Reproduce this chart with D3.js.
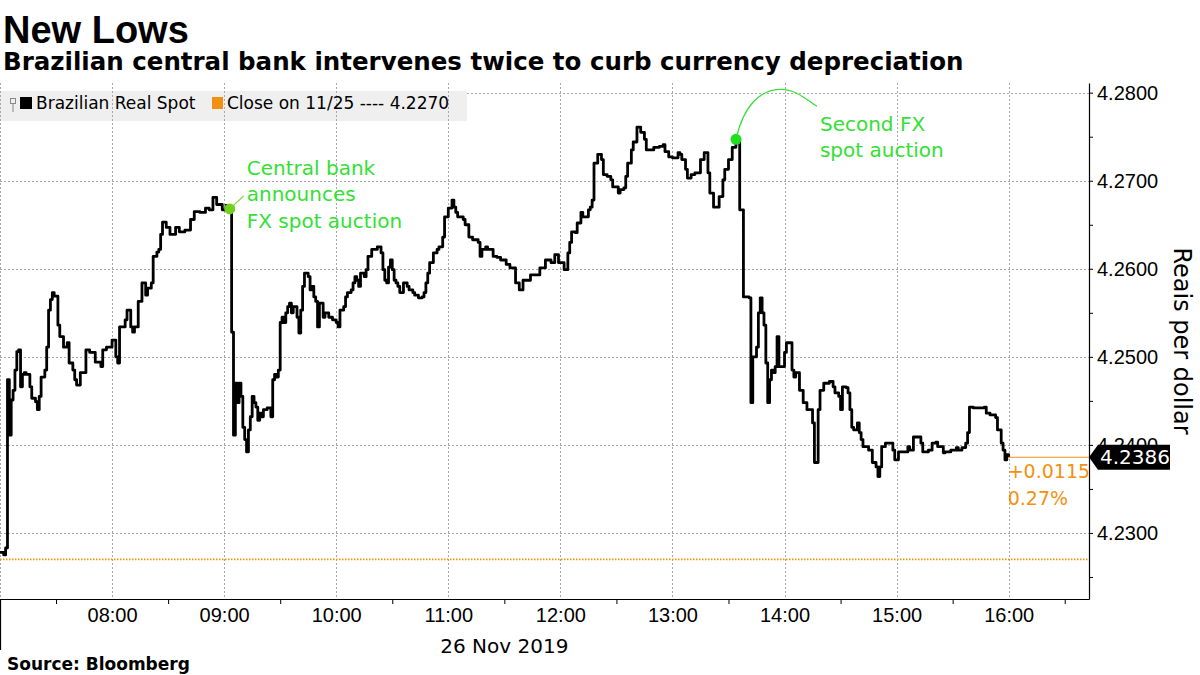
<!DOCTYPE html>
<html>
<head>
<meta charset="utf-8">
<script src="https://cdn.jsdelivr.net/npm/d3@7"></script>
<style>
  body { margin: 0; background: #fff; }
  svg { display: block; font-family: "DejaVu Sans", sans-serif; }
</style>
</head>
<body>
<svg id="chart" width="1200" height="675"></svg>
<script>
(function () {

  // minutes after 07:00 on 26 Nov 2019
  var minutes = [
    0, 2, 3, 4, 5, 6, 7, 8, 9, 10, 11, 12, 13, 14, 16, 17, 19, 20, 21, 22, 24, 25, 26, 27, 28, 29,
    31, 32, 34, 36, 37, 39, 40, 41, 43, 46, 48, 51, 54, 55, 57, 60, 62, 63, 64, 67, 68, 70, 71, 72,
    74, 76, 78, 79, 81, 82, 84, 85, 86, 87, 89, 91, 94, 96, 99, 102, 104, 107, 110, 112, 114, 116,
    119, 121, 123, 124, 125, 126, 127, 128, 129, 130, 131, 132, 133, 134, 135, 136, 137, 138, 139,
    140, 141, 143, 145, 146, 147, 148, 149, 150, 151, 152, 153, 154, 155, 156, 157, 159, 160, 161,
    162, 163, 165, 166, 167, 168, 169, 170, 171, 173, 174, 176, 178, 180, 181, 182, 184, 185, 186,
    188, 189, 190, 191, 192, 193, 195, 196, 197, 199, 202, 204, 205, 206, 207, 208, 209, 210, 211,
    212, 213, 214, 216, 218, 219, 221, 222, 224, 226, 227, 228, 229, 230, 232, 234, 235, 237, 238,
    240, 242, 243, 244, 245, 248, 249, 251, 253, 256, 257, 258, 260, 261, 264, 266, 268, 271, 273,
    276, 278, 280, 284, 289, 292, 295, 297, 299, 302, 304, 305, 306, 308, 309, 311, 312, 315, 316,
    317, 318, 320, 321, 322, 323, 325, 327, 328, 331, 332, 334, 335, 336, 338, 339, 341, 342, 343,
    345, 346, 347, 350, 353, 355, 356, 358, 360, 363, 364, 365, 367, 368, 370, 372, 375, 377, 379,
    380, 382, 385, 387, 388, 390, 392, 394, 396, 398, 401, 402, 403, 405, 406, 407, 408, 409, 410,
    411, 412, 413, 414, 415, 416, 417, 419, 420, 421, 422, 424, 425, 426, 428, 430, 431, 432, 435,
    436, 437, 438, 439, 441, 444, 446, 447, 449, 450, 451, 453, 454, 455, 456, 457, 459, 460, 461,
    462, 465, 467, 469, 470, 471, 472, 474, 476, 478, 479, 481, 484, 486, 487, 489, 491, 493, 494,
    497, 499, 501, 502, 505, 506, 509, 512, 513, 515, 517, 518, 519, 521, 524, 527, 528, 530, 533,
    534, 536, 537, 538, 539, 540
  ];

  // BRL per USD spot
  var spot = [
    4.2278, 4.2275, 4.2283, 4.2474, 4.2411, 4.2451, 4.2462, 4.2485, 4.2506, 4.2508, 4.2466, 4.2480,
    4.2482, 4.2480, 4.2466, 4.2453, 4.2449, 4.2440, 4.2455, 4.2477, 4.2485, 4.2511, 4.2553, 4.2565,
    4.2573, 4.2569, 4.2536, 4.2523, 4.2511, 4.2516, 4.2493, 4.2485, 4.2474, 4.2468, 4.2482, 4.2508,
    4.2505, 4.2494, 4.2489, 4.2508, 4.2511, 4.2519, 4.2500, 4.2493, 4.2534, 4.2542, 4.2553, 4.2534,
    4.2528, 4.2534, 4.2563, 4.2584, 4.2570, 4.2578, 4.2584, 4.2614, 4.2619, 4.2622, 4.2639, 4.2653,
    4.2647, 4.2639, 4.2647, 4.2642, 4.2644, 4.2656, 4.2665, 4.2664, 4.2669, 4.2667, 4.2681, 4.2673,
    4.2667, 4.2672, 4.2668, 4.2528, 4.2411, 4.2470, 4.2448, 4.2470, 4.2455, 4.2420, 4.2406, 4.2392,
    4.2417, 4.2432, 4.2455, 4.2448, 4.2443, 4.2428, 4.2436, 4.2432, 4.2440, 4.2442, 4.2432, 4.2474,
    4.2480, 4.2477, 4.2485, 4.2539, 4.2545, 4.2539, 4.2550, 4.2557, 4.2561, 4.2550, 4.2557, 4.2545,
    4.2527, 4.2553, 4.2580, 4.2595, 4.2591, 4.2576, 4.2580, 4.2568, 4.2563, 4.2534, 4.2561, 4.2545,
    4.2550, 4.2545, 4.2542, 4.2539, 4.2534, 4.2553, 4.2557, 4.2568, 4.2573, 4.2576, 4.2584, 4.2591,
    4.2587, 4.2580, 4.2595, 4.2591, 4.2599, 4.2614, 4.2622, 4.2625, 4.2618, 4.2599, 4.2587, 4.2584,
    4.2602, 4.2610, 4.2599, 4.2587, 4.2584, 4.2580, 4.2573, 4.2584, 4.2580, 4.2576, 4.2573, 4.2570,
    4.2567, 4.2568, 4.2573, 4.2584, 4.2595, 4.2607, 4.2618, 4.2622, 4.2625, 4.2636, 4.2659, 4.2669,
    4.2678, 4.2670, 4.2664, 4.2659, 4.2656, 4.2650, 4.2636, 4.2633, 4.2630, 4.2614, 4.2622, 4.2625,
    4.2622, 4.2614, 4.2613, 4.2610, 4.2605, 4.2601, 4.2584, 4.2576, 4.2587, 4.2593, 4.2601, 4.2610,
    4.2607, 4.2616, 4.2607, 4.2599, 4.2618, 4.2630, 4.2642, 4.2641, 4.2652, 4.2664, 4.2659, 4.2667,
    4.2670, 4.2678, 4.2720, 4.2730, 4.2730, 4.2724, 4.2707, 4.2705, 4.2701, 4.2693, 4.2686, 4.2690,
    4.2692, 4.2705, 4.2720, 4.2735, 4.2744, 4.2761, 4.2761, 4.2755, 4.2747, 4.2735, 4.2735, 4.2738,
    4.2739, 4.2741, 4.2733, 4.2727, 4.2726, 4.2732, 4.2730, 4.2724, 4.2713, 4.2703, 4.2707, 4.2709,
    4.2724, 4.2732, 4.2709, 4.2686, 4.2670, 4.2682, 4.2701, 4.2713, 4.2724, 4.2738, 4.2747, 4.2667,
    4.2568, 4.2567, 4.2448, 4.2500, 4.2511, 4.2550, 4.2567, 4.2550, 4.2536, 4.2493, 4.2448, 4.2474,
    4.2485, 4.2482, 4.2489, 4.2523, 4.2489, 4.2489, 4.2505, 4.2516, 4.2516, 4.2485, 4.2477, 4.2482,
    4.2462, 4.2448, 4.2448, 4.2440, 4.2425, 4.2380, 4.2380, 4.2440, 4.2462, 4.2470, 4.2472, 4.2466,
    4.2459, 4.2455, 4.2440, 4.2466, 4.2465, 4.2459, 4.2440, 4.2420, 4.2417, 4.2425, 4.2414, 4.2406,
    4.2398, 4.2394, 4.2380, 4.2375, 4.2364, 4.2375, 4.2398, 4.2402, 4.2402, 4.2394, 4.2383, 4.2392,
    4.2392, 4.2398, 4.2394, 4.2409, 4.2409, 4.2402, 4.2392, 4.2394, 4.2402, 4.2403, 4.2398, 4.2391,
    4.2392, 4.2394, 4.2397, 4.2394, 4.2397, 4.2402, 4.2414, 4.2443, 4.2442, 4.2442, 4.2443, 4.2436,
    4.2434, 4.2431, 4.2417, 4.2402, 4.2394, 4.2383, 4.2389, 4.2386
  ];

  var prevClose = 4.2270;
  var changeText = ["+0.0115", "0.27%"];

  var yMajor = [4.23, 4.24, 4.25, 4.26, 4.27, 4.28];
  var yMinor = [4.225, 4.235, 4.245, 4.255, 4.265, 4.275];
  var hourLabels = ["08:00", "09:00", "10:00", "11:00", "12:00", "13:00", "14:00", "15:00", "16:00"];
  var halfHours = ["07:30", "08:30", "09:30", "10:30", "11:30", "12:30", "13:30", "14:30", "15:30", "16:30"];
  var dayLabel = "26 Nov 2019";

  var noteMinutes = [123, 394];
  var noteLines = [["Central bank", "announces", "FX spot auction"], ["Second FX", "spot auction"]];

  var green = "#33e033";
  var orange = "#f29111";

  var parse = d3.timeParse("%H:%M");
  var t0 = parse("07:00");

  var data = minutes.map(function (m, i) {
    return { t: d3.timeMinute.offset(t0, m), v: spot[i] };
  });

  var plotTop = 83, plotBottom = 599, plotRight = 1089;

  var x = d3.scaleTime()
    .domain([t0, parse("16:43")])
    .range([0, plotRight]);

  var y = d3.scaleLinear()
    .domain([4.2225, 4.2811])
    .range([plotBottom, plotTop]);

  var svg = d3.select("#chart");

  svg.append("rect").attr("width", 1200).attr("height", 675).attr("fill", "#fff");

  // titles
  svg.append("text")
    .attr("x", 3).attr("y", 43)
    .style("font-family", "'Liberation Sans', Arial, sans-serif")
    .style("font-weight", "bold")
    .style("font-size", "38px")
    .text("New Lows");

  svg.append("text")
    .attr("x", 3).attr("y", 70)
    .style("font-weight", "bold")
    .style("font-size", "24.5px")
    .text("Brazilian central bank intervenes twice to curb currency depreciation");

  // legend background (drawn under the grid)
  svg.append("rect")
    .attr("x", 0).attr("y", 91)
    .attr("width", 467).attr("height", 30)
    .attr("fill", "#efefef");

  // grid
  var grid = svg.append("g")
    .attr("stroke", "#a8a8a8")
    .attr("stroke-width", 1)
    .attr("stroke-dasharray", "2,2");

  grid.selectAll(".hgrid")
    .data(yMajor)
    .enter()
      .append("line")
      .attr("x1", function (d) { return d == 4.28 ? 467 : 0; })
      .attr("x2", plotRight)
      .attr("y1", function (d) { return Math.round(y(d)) + 0.5; })
      .attr("y2", function (d) { return Math.round(y(d)) + 0.5; });

  grid.selectAll(".vgrid")
    .data(["07:00"].concat(hourLabels))
    .enter()
      .append("line")
      .attr("x1", function (d) { return Math.round(x(parse(d))) + 0.5; })
      .attr("x2", function (d) { return Math.round(x(parse(d))) + 0.5; })
      .attr("y1", plotTop)
      .attr("y2", plotBottom);

  // legend contents
  var legend = svg.append("g").style("font-size", "17px");
  legend.append("rect")
    .attr("x", 10.5).attr("y", 98.5).attr("width", 5).attr("height", 5)
    .attr("fill", "none").attr("stroke", "#888");
  legend.append("line")
    .attr("x1", 13).attr("x2", 13).attr("y1", 104).attr("y2", 112)
    .attr("stroke", "#888");
  legend.append("rect")
    .attr("x", 20).attr("y", 97).attr("width", 12).attr("height", 12)
    .attr("fill", "#000");
  legend.append("text").attr("x", 36).attr("y", 109).text("Brazilian Real Spot");
  legend.append("rect")
    .attr("x", 212).attr("y", 97).attr("width", 11).attr("height", 12)
    .attr("fill", orange);
  legend.append("text").attr("x", 227).attr("y", 109)
    .text("Close on 11/25 ---- " + prevClose.toFixed(4));

  // previous close reference
  svg.append("line")
    .attr("x1", 0).attr("x2", plotRight)
    .attr("y1", y(prevClose)).attr("y2", y(prevClose))
    .attr("stroke", orange)
    .attr("stroke-width", 1.6)
    .attr("stroke-dasharray", "1.5,1.5");

  // x axis
  var xLabels = d3.axisBottom(x)
    .tickValues(hourLabels.map(parse))
    .tickFormat(d3.timeFormat("%H:%M"))
    .tickSize(0)
    .tickSizeOuter(0)
    .tickPadding(9);

  var xAxis = svg.append("g")
    .attr("transform", "translate(0," + plotBottom + ")")
    .call(xLabels);
  xAxis.select(".domain").attr("stroke", "#000").attr("stroke-width", 1.2);
  xAxis.selectAll("text").style("font-size", "20px").attr("fill", "#000").attr("font-family", null);

  var xMinor = d3.axisBottom(x)
    .tickValues(halfHours.map(parse))
    .tickFormat("")
    .tickSize(5)
    .tickSizeOuter(0);

  svg.append("g")
    .attr("transform", "translate(0," + plotBottom + ")")
    .call(xMinor)
    .call(function (g) { g.select(".domain").remove(); });

  // day separator + date
  svg.append("line")
    .attr("x1", 0.5).attr("x2", 0.5)
    .attr("y1", plotBottom).attr("y2", 650)
    .attr("stroke", "#000").attr("stroke-width", 1.2);

  svg.append("text")
    .attr("x", (x(t0) + x(parse("16:00"))) / 2)
    .attr("y", 653)
    .attr("text-anchor", "middle")
    .style("font-size", "20px")
    .text(dayLabel);

  // y axis (right)
  var yAxisFn = d3.axisRight(y)
    .tickValues(yMajor)
    .tickFormat(d3.format(".4f"))
    .tickSize(4)
    .tickSizeOuter(0)
    .tickPadding(4);

  var yAxis = svg.append("g")
    .attr("transform", "translate(" + plotRight + ",0)")
    .call(yAxisFn);
  yAxis.select(".domain").attr("stroke", "#000").attr("stroke-width", 1.2);
  yAxis.selectAll("text").style("font-size", "20px").attr("fill", "#000").attr("font-family", null);

  svg.append("g")
    .attr("transform", "translate(" + plotRight + ",0)")
    .call(d3.axisRight(y).tickValues(yMinor).tickFormat("").tickSize(4).tickSizeOuter(0))
    .call(function (g) { g.select(".domain").remove(); });

  svg.append("text")
    .attr("transform", "translate(1174,341) rotate(90)")
    .attr("text-anchor", "middle")
    .style("font-size", "24px")
    .text("Reais per dollar");

  // price line
  var line = d3.line()
    .x(function (d) { return x(d.t); })
    .y(function (d) { return y(d.v); })
    .curve(d3.curveStepAfter);

  svg.append("path")
    .datum(data)
    .attr("fill", "none")
    .attr("stroke", "#000")
    .attr("stroke-width", 2.8)
    .attr("stroke-linejoin", "round")
    .attr("d", line);

  // last value
  var last = data[data.length - 1];
  var lx = x(last.t), ly = y(last.v);

  svg.append("line")
    .attr("x1", lx).attr("x2", plotRight)
    .attr("y1", ly).attr("y2", ly)
    .attr("stroke", orange).attr("stroke-width", 1.2);

  svg.selectAll(".chg")
    .data(changeText)
    .enter()
      .append("text")
      .attr("x", lx - 1)
      .attr("y", function (d, i) { return ly + 21 + i * 27; })
      .attr("fill", orange)
      .style("font-size", "19px")
      .text(function (d) { return d; });

  svg.append("path")
    .attr("d", "M" + plotRight + "," + ly + "L" + (plotRight + 9) + "," + (ly - 12.5) +
      "H1170V" + (ly + 12.5) + "H" + (plotRight + 9) + "Z")
    .attr("fill", "#000");

  svg.append("text")
    .attr("x", plotRight + 11)
    .attr("y", ly)
    .attr("dy", "0.36em")
    .attr("fill", "#fff")
    .style("font-size", "20px")
    .text(last.v.toFixed(4));

  // annotations
  noteMinutes.forEach(function (m, i) {
    var idx = minutes.indexOf(m);
    var px = x(data[idx].t), py = y(data[idx].v);
    var g = svg.append("g");

    if (i == 0) {
      g.append("line")
        .attr("x1", px).attr("y1", py)
        .attr("x2", px + 14).attr("y2", py - 13)
        .attr("stroke", "#7fcf2a").attr("stroke-width", 1.2);
      g.append("circle")
        .attr("cx", px).attr("cy", py).attr("r", 5.5)
        .attr("fill", "#74cf21");
      g.selectAll("text")
        .data(noteLines[i])
        .enter()
          .append("text")
          .attr("x", px + 17)
          .attr("y", function (d, j) { return py - 34 + j * 26.5; })
          .attr("fill", green)
          .style("font-size", "20px")
          .text(function (d) { return d; });
    } else {
      g.append("path")
        .attr("d", "M" + px + "," + py +
          "c8,-35 25,-50 45,-50c15,0 25,10 36,17")
        .attr("fill", "none")
        .attr("stroke", green).attr("stroke-width", 1.2);
      g.append("circle")
        .attr("cx", px).attr("cy", py).attr("r", 5.5)
        .attr("fill", "#1fe01f");
      g.selectAll("text")
        .data(noteLines[i])
        .enter()
          .append("text")
          .attr("x", px + 84)
          .attr("y", function (d, j) { return py - 8 + j * 26; })
          .attr("fill", green)
          .style("font-size", "20px")
          .text(function (d) { return d; });
    }
  });

  // source
  svg.append("text")
    .attr("x", 7).attr("y", 670)
    .style("font-weight", "bold")
    .style("font-size", "17px")
    .text("Source:  Bloomberg");

})();
</script>
</body>
</html>
